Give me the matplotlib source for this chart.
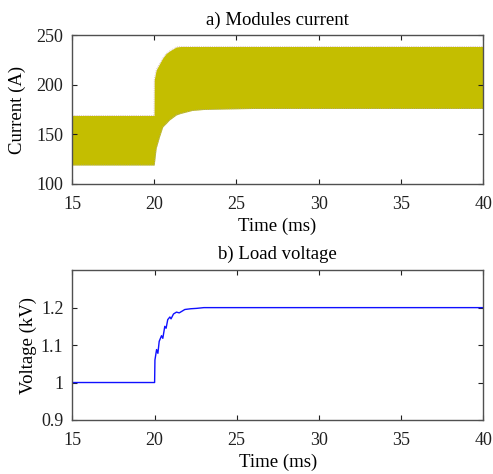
import matplotlib
matplotlib.use('Agg')
import matplotlib.pyplot as plt

plt.rcParams['font.family'] = ['Liberation Serif', 'DejaVu Serif']

# module current envelope (ms, A)
cur_t = [15.0, 19.99, 20.0, 20.12, 20.32, 20.52, 20.73, 20.93, 21.34, 21.6, 22.3, 23.0, 24.3, 26.0, 40.0]
cur_hi = [169, 169, 205, 215, 221, 227, 231.5, 234, 238, 238.5, 238.5, 238.5, 238.5, 238.5, 238.5]
cur_lo = [119, 119, 119, 136, 147.5, 157.5, 161, 164.5, 169.5, 171, 174, 175, 175.5, 176, 176]

# load voltage (ms, kV)
volt_t = [15.0, 20.0, 20.02, 20.12, 20.2, 20.28, 20.42, 20.5, 20.62, 20.7, 20.8, 20.93, 21.0,
          21.15, 21.33, 21.5, 21.84, 22.2, 22.55, 23.0, 40.0]
volt_v = [1.0, 1.0, 1.06, 1.088, 1.078, 1.11, 1.125, 1.118, 1.15, 1.145, 1.168, 1.175, 1.17,
          1.183, 1.188, 1.186, 1.195, 1.197, 1.198, 1.2, 1.2]

x_ticks = [15, 20, 25, 30, 35, 40]
cur_ticks = [100, 150, 200, 250]
volt_ticks = [0.9, 1.0, 1.1, 1.2]
volt_labels = ['0.9', '1', '1.1', '1.2']

fig = plt.figure(figsize=(4.93, 4.74), dpi=100)
ax1 = fig.add_axes([0.146, 0.612, 0.834, 0.314])
ax2 = fig.add_axes([0.147, 0.114, 0.833, 0.316])

ax1.fill_between(cur_t, cur_lo, cur_hi, color='#c4be00', linewidth=0)
ax1.plot(cur_t, cur_hi, color='#c8a0a0', lw=0.5, ls=':')
ax1.plot(cur_t, cur_lo, color='#a0a0d0', lw=0.5, ls=':')
ax1.set_xlim(15, 40)
ax1.set_ylim(100, 250)
ax1.set_xticks(x_ticks)
ax1.set_yticks(cur_ticks)
ax1.set_xlabel('Time (ms)', fontsize=13.5, labelpad=3)
ax1.set_ylabel('Current (A)', fontsize=13.5, labelpad=7)
ax1.set_title('a) Modules current', fontsize=13.5, pad=7.5)

ax2.plot(volt_t, volt_v, color='#1010ff', lw=1.0)
ax2.set_xlim(15, 40)
ax2.set_ylim(0.9, 1.3)
ax2.set_xticks(x_ticks)
ax2.set_yticks(volt_ticks)
ax2.set_yticklabels(volt_labels)
ax2.set_xlabel('Time (ms)', fontsize=13.5, labelpad=3)
ax2.set_ylabel('Voltage (kV)', fontsize=13.5, labelpad=3)
ax2.set_title('b) Load voltage', fontsize=13.5, pad=8)

for ax in (ax1, ax2):
    ax.tick_params(direction='in', length=3.5, width=0.8, labelsize=13, top=True, right=True,
                   colors='#202020')
    ax.tick_params(axis='x', pad=9)
    ax.tick_params(axis='y', pad=6.5)
    for s in ax.spines.values():
        s.set_color('#505050')
        s.set_linewidth(1.0)

fig.savefig('out.png', dpi=100)
